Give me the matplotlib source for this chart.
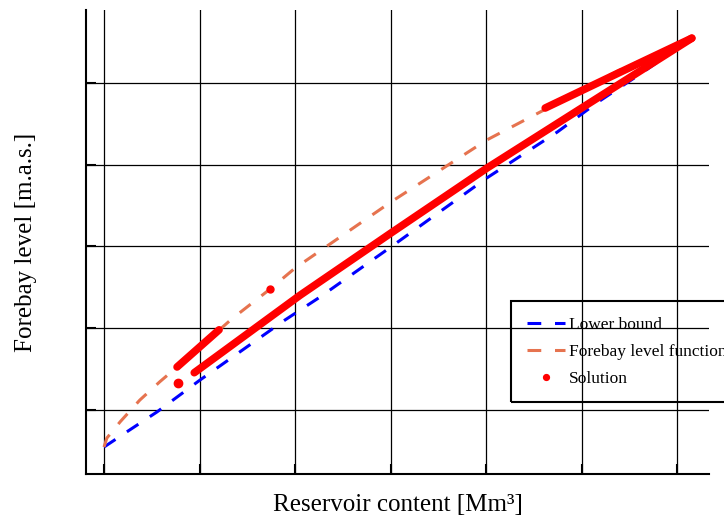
import matplotlib
matplotlib.use("Agg")
import matplotlib.pyplot as plt

plt.rcParams['font.family'] = ['Liberation Serif', 'DejaVu Serif']

# lower bound on forebay level vs reservoir content
lb_content = [0.0, 5.4, 11.1, 20.1, 27.0, 37.9, 45.2, 60.1, 80.2, 94.9, 103.5, 112.9, 123.1]
lb_level = [451.09, 451.51, 451.95, 452.73, 453.30, 454.20, 454.76, 455.99, 457.68, 458.80, 459.54, 460.27, 461.10]

# forebay level function
fl_content = [0.0, 0.6, 3.4, 7.5, 11.7, 15.3, 26.8, 34.8, 40.0, 60.1, 80.2, 91.3, 107.6, 123.1]
fl_level = [451.09, 451.31, 451.71, 452.24, 452.69, 453.05, 454.23, 454.96, 455.47, 457.09, 458.61, 459.29, 460.30, 461.10]

# solution trajectory, split into its branches
sol_low_content = [18.9, 41.1, 60.1, 80.2, 123.1]
sol_low_level = [452.91, 454.81, 456.33, 457.92, 461.10]
sol_up_content = [92.4, 107.6, 123.1]
sol_up_level = [459.39, 460.24, 461.10]
sol_start_content = [15.3, 24.1]
sol_start_level = [453.05, 453.96]
sol_pts_content = [15.5, 34.8]
sol_pts_level = [452.66, 454.96]

fig = plt.figure(figsize=(7.24, 5.17), dpi=100)
ax = fig.add_axes([86/724, 43/517, 623/724, 464/517])

ax.plot(lb_content, lb_level, color='#0000FF', lw=2.2, dashes=(4.5, 4.5), label='Lower bound', zorder=3)
ax.plot(fl_content, fl_level, color='#E6734F', lw=2.2, dashes=(4.5, 4.5), label='Forebay level function', zorder=3)

for xs, ys in [(sol_low_content, sol_low_level), (sol_up_content, sol_up_level),
               (sol_start_content, sol_start_level)]:
    ax.plot(xs, ys, color='#FF0000', lw=5.5, solid_capstyle='round', solid_joinstyle='round', zorder=4)
ax.plot(sol_pts_content[:1], sol_pts_level[:1], 'o', color='#FF0000', ms=6, zorder=4, label='Solution')
ax.plot(sol_pts_content[1:], sol_pts_level[1:], 'o', color='#FF0000', ms=5, zorder=4)

ax.set_xlim(-3.77, 126.7)
ax.set_ylim(450.43, 461.79)
ax.set_xticks([0, 20, 40, 60, 80, 100, 120])
ax.set_yticks([452, 454, 456, 458, 460])
ax.set_xticklabels([])
ax.set_yticklabels([])
ax.tick_params(direction='in', length=7, width=1.5, color='black')
ax.grid(True, color='black', lw=0.9)
ax.set_axisbelow(True)
for side in ['top', 'right']:
    ax.spines[side].set_visible(False)
for side in ['left', 'bottom']:
    ax.spines[side].set_linewidth(1.5)

ax.set_xlabel('Reservoir content [Mm³]', fontsize=18, labelpad=11)
ax.set_ylabel('Forebay level [m.a.s.]', fontsize=18, labelpad=32)

leg = ax.legend(loc='upper left', bbox_to_anchor=(511/724, 1 - 301/517), bbox_transform=fig.transFigure,
                borderaxespad=0, fontsize=12.5, fancybox=False, edgecolor='black',
                handlelength=2.2, handletextpad=0.25, markerscale=0.7, labelspacing=0.62, borderpad=0.9)
leg.get_frame().set_facecolor('none')
leg.get_frame().set_alpha(None)
leg.get_frame().set_linewidth(1.5)

fig.savefig('out.png', dpi=100)
